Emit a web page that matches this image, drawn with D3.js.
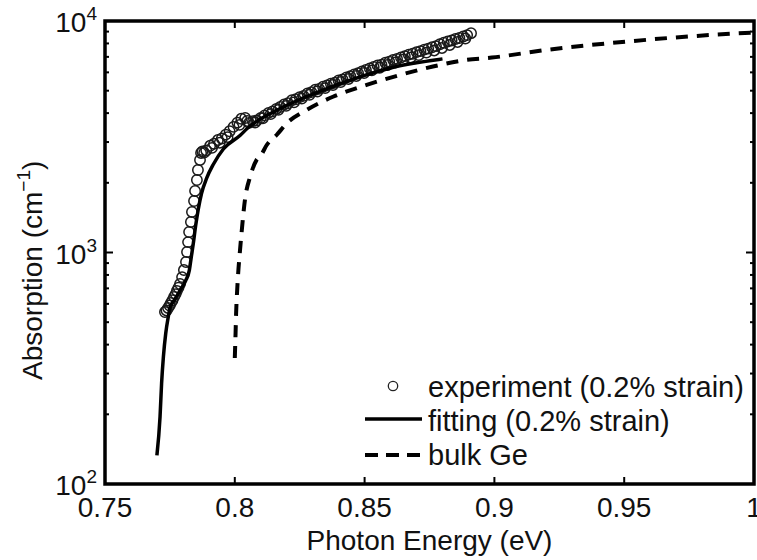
<!DOCTYPE html>
<html>
<head>
<meta charset="utf-8">
<script src="https://cdn.jsdelivr.net/npm/d3@7"></script>
<style>
  html, body { margin: 0; padding: 0; background: #fff; }
  svg { display: block; font-family: "Liberation Sans", Arial, Helvetica, sans-serif; }
</style>
</head>
<body>
<div id="chart"></div>
<script>
// experiment (0.2% strain) — photon energy (eV) / absorption (cm^-1)
const EXP_E = [
  0.7731, 0.7737, 0.7743, 0.7749, 0.7754, 0.7760, 0.7766, 0.7772, 0.7777, 0.7783, 0.7789, 0.7797,
  0.7804, 0.7812, 0.7816, 0.7820, 0.7824, 0.7831, 0.7835, 0.7843, 0.7847, 0.7854, 0.7858, 0.7866,
  0.7870, 0.7875, 0.7890, 0.7905, 0.7920, 0.7935, 0.7950, 0.7965, 0.7980, 0.7995, 0.8010, 0.8025,
  0.8040, 0.8055, 0.8070, 0.8085, 0.8100, 0.8115, 0.8130, 0.8145, 0.8160, 0.8175, 0.8190, 0.8205,
  0.8220, 0.8235, 0.8250, 0.8265, 0.8280, 0.8295, 0.8310, 0.8325, 0.8340, 0.8355, 0.8370, 0.8385,
  0.8400, 0.8415, 0.8430, 0.8445, 0.8460, 0.8475, 0.8490, 0.8505, 0.8520, 0.8535, 0.8550, 0.8565,
  0.8580, 0.8595, 0.8610, 0.8625, 0.8640, 0.8655, 0.8670, 0.8685, 0.8700, 0.8715, 0.8730, 0.8745,
  0.8760, 0.8775, 0.8790, 0.8805, 0.8820, 0.8835, 0.8850, 0.8865, 0.8880, 0.8895, 0.8910,
  // second sweep, interleaved
  0.7882, 0.7912, 0.7942, 0.7972, 0.8018, 0.8048, 0.8078, 0.8108, 0.8138, 0.8168, 0.8198, 0.8228,
  0.8258, 0.8288, 0.8318, 0.8348, 0.8378, 0.8408, 0.8438, 0.8468, 0.8498, 0.8528, 0.8558, 0.8588,
  0.8618, 0.8648, 0.8678, 0.8708, 0.8738, 0.8768, 0.8798, 0.8828, 0.8858, 0.8888
];
const EXP_A = [
  553, 562, 576, 590, 605, 622, 643, 661, 683, 705, 731, 783,
  840, 910, 1005, 1109, 1226, 1355, 1497, 1669, 1844, 2057, 2272, 2510,
  2692, 2730, 2760, 2890, 2950, 3060, 3110, 3230, 3340, 3490, 3640, 3780,
  3810, 3630, 3690, 3720, 3810, 3910, 4010, 4070, 4170, 4250, 4360, 4410,
  4550, 4590, 4690, 4750, 4870, 4930, 5050, 5090, 5200, 5270, 5360, 5410,
  5540, 5590, 5700, 5770, 5880, 5950, 6060, 6140, 6240, 6330, 6430, 6470,
  6600, 6670, 6790, 6860, 6960, 7050, 7160, 7220, 7340, 7410, 7520, 7600,
  7700, 7790, 7940, 8050, 8160, 8240, 8360, 8440, 8570, 8690, 8860,
  2700, 2830, 2980, 3150, 3560, 3700, 3640, 3800, 3960, 4130, 4300, 4450,
  4620, 4800, 4960, 5130, 5290, 5450, 5620, 5790, 5960, 6120, 6280, 6460,
  6620, 6800, 6960, 7120, 7300, 7460, 7650, 7880, 8120, 8400
];

// fitting (0.2% strain)
const FIT_E = [
  0.7700, 0.7712, 0.7718, 0.7725, 0.7734, 0.7744, 0.7750, 0.7770, 0.7790, 0.7810, 0.7825, 0.7832,
  0.7840, 0.7849, 0.7859, 0.7872, 0.7892, 0.7917, 0.7956, 0.8020, 0.8050, 0.8100, 0.8150, 0.8200,
  0.8250, 0.8300, 0.8350, 0.8400, 0.8450, 0.8500, 0.8550, 0.8600, 0.8650, 0.8700, 0.8750, 0.8800
];
const FIT_A = [
  133, 195, 272, 355, 448, 529, 575, 630, 689, 753, 839, 950,
  1090, 1300, 1530, 1800, 2100, 2400, 2800, 3200, 3450, 3780, 4050, 4320,
  4580, 4830, 5080, 5330, 5580, 5820, 6040, 6270, 6460, 6600, 6730, 6860
];

// bulk Ge
const BULK_E = [
  0.8000, 0.8003, 0.8005, 0.8008, 0.8013, 0.8020, 0.8027, 0.8039, 0.8059, 0.8084, 0.8100, 0.8123,
  0.8161, 0.8200, 0.8277, 0.8378, 0.8508, 0.8636, 0.8763, 0.8893, 0.8990, 0.9201, 0.9509, 0.9842, 1.0000
];
const BULK_A = [
  350, 450, 545, 650, 813, 1020, 1250, 1686, 2124, 2513, 2620, 2913,
  3218, 3614, 4129, 4707, 5297, 5845, 6356, 6790, 6950, 7502, 8147, 8716, 8913
];

const X_TICKS = [0.75, 0.8, 0.85, 0.9, 0.95, 1];
const X_TICK_LABELS = ["0.75", "0.8", "0.85", "0.9", "0.95", "1"];
const Y_MAJOR = [100, 1000, 10000];
const Y_EXPONENTS = ["2", "3", "4"];
const LEGEND = ["experiment (0.2% strain)", "fitting (0.2% strain)", "bulk Ge"];

(function () {
  const W = 757, H = 560;
  const M = { top: 21, right: 3, bottom: 76, left: 105 };
  const iW = W - M.left - M.right;
  const iH = H - M.top - M.bottom;
  const INK = "#000";

  const svg = d3.select("#chart").append("svg")
    .attr("width", W).attr("height", H).attr("viewBox", `0 0 ${W} ${H}`);

  svg.append("defs").append("clipPath").attr("id", "plot-clip")
    .append("rect").attr("width", iW).attr("height", iH);

  const g = svg.append("g").attr("transform", `translate(${M.left},${M.top})`);

  const x = d3.scaleLinear().domain([0.75, 1]).range([0, iW]);
  const y = d3.scaleLog().domain([100, 10000]).range([iH, 0]);

  const minor = y.ticks().filter(v => !Y_MAJOR.includes(v));
  const inner = X_TICKS.slice(1, -1);

  // inward ticks on all four sides
  const tickG = g.append("g").attr("stroke", INK).attr("stroke-width", 2);
  inner.forEach(v => {
    tickG.append("line").attr("x1", x(v)).attr("x2", x(v)).attr("y1", iH).attr("y2", iH - 7);
    tickG.append("line").attr("x1", x(v)).attr("x2", x(v)).attr("y1", 0).attr("y2", 7);
  });
  minor.forEach(v => {
    tickG.append("line").attr("x1", 0).attr("x2", 4).attr("y1", y(v)).attr("y2", y(v));
    tickG.append("line").attr("x1", iW).attr("x2", iW - 4).attr("y1", y(v)).attr("y2", y(v));
  });
  [1000].forEach(v => {
    tickG.append("line").attr("x1", 0).attr("x2", 8).attr("y1", y(v)).attr("y2", y(v));
    tickG.append("line").attr("x1", iW).attr("x2", iW - 8).attr("y1", y(v)).attr("y2", y(v));
  });

  // x tick labels
  g.append("g").selectAll("text").data(X_TICKS).join("text")
    .attr("x", d => x(d)).attr("y", iH + 33)
    .attr("text-anchor", "middle").attr("font-size", 28).attr("fill", "#111")
    .text((d, i) => X_TICK_LABELS[i]);

  // y tick labels: 10^n
  const yl = g.append("g").selectAll("text").data(Y_MAJOR).join("text")
    .attr("x", -8).attr("y", d => y(d) + 11)
    .attr("text-anchor", "end").attr("font-size", 28).attr("fill", "#111");
  yl.append("tspan").text("10");
  yl.append("tspan").attr("font-size", 19).attr("dy", -12).text((d, i) => Y_EXPONENTS[i]);

  // axis titles
  g.append("text").attr("x", iW / 2).attr("y", iH + 66)
    .attr("text-anchor", "middle").attr("font-size", 28).attr("fill", "#111")
    .text("Photon Energy (eV)");
  const yt = svg.append("text").attr("transform", "rotate(-90)")
    .attr("x", -380).attr("y", 42).attr("text-anchor", "start")
    .attr("font-size", 28).attr("fill", "#111");
  yt.append("tspan").text("Absorption (cm");
  yt.append("tspan").attr("font-size", 19).attr("dy", -12).text("\u22121");
  yt.append("tspan").attr("dy", 12).text(")");

  // data
  const plot = g.append("g").attr("clip-path", "url(#plot-clip)");

  const exp = EXP_E.map((e, i) => ({ e, a: EXP_A[i] }));
  plot.append("g").selectAll("circle").data(exp).join("circle")
    .attr("cx", d => x(d.e)).attr("cy", d => y(d.a)).attr("r", 5.2)
    .attr("fill", "none").attr("stroke", "#1a1a1a").attr("stroke-width", 1.5);

  const line = d3.line().x(d => x(d.e)).y(d => y(d.a)).curve(d3.curveMonotoneX);

  plot.append("path").datum(FIT_E.map((e, i) => ({ e, a: FIT_A[i] })))
    .attr("fill", "none").attr("stroke", INK).attr("stroke-width", 3.5).attr("d", line);

  plot.append("path").datum(BULK_E.map((e, i) => ({ e, a: BULK_A[i] })))
    .attr("fill", "none").attr("stroke", INK).attr("stroke-width", 4)
    .attr("stroke-dasharray", "12,9").attr("d", line);

  // frame
  g.append("rect").attr("width", iW).attr("height", iH)
    .attr("fill", "none").attr("stroke", INK).attr("stroke-width", 3.5);

  // legend
  const lg = svg.append("g");
  const rowY = [397, 431, 465];
  LEGEND.forEach((t, i) => {
    lg.append("text").attr("x", 428).attr("y", rowY[i])
      .attr("font-size", 29).attr("fill", "#111").text(t);
  });
  lg.append("circle").attr("cx", 393).attr("cy", 386).attr("r", 4.7)
    .attr("fill", "none").attr("stroke", "#222").attr("stroke-width", 1.3);
  lg.append("line").attr("x1", 365).attr("x2", 422).attr("y1", 419).attr("y2", 419)
    .attr("stroke", INK).attr("stroke-width", 3.5);
  lg.append("line").attr("x1", 365).attr("x2", 421).attr("y1", 455).attr("y2", 455)
    .attr("stroke", INK).attr("stroke-width", 4).attr("stroke-dasharray", "13,8");
})();
</script>
</body>
</html>
